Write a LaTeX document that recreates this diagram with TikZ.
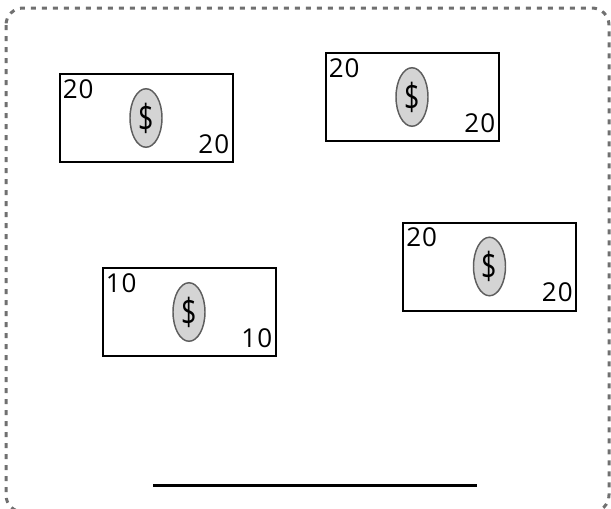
\documentclass[tikz,border=0pt]{standalone}
\usepackage{fontspec}
\usepackage{graphicx}
\setmainfont{Open Sans}
\newfontfamily\billfont[LetterSpace=4]{Open Sans}
\usetikzlibrary{shapes.geometric,positioning}
\definecolor{framegray}{HTML}{707070}
\definecolor{coinfill}{HTML}{D4D4D4}
\definecolor{coinedge}{HTML}{5E5E5E}
\newcommand{\dollarsign}{\scalebox{0.72}[1]{\$}}
\tikzset{
  bill/.style={draw=black,line width=1.5pt,minimum width=129.75pt,minimum height=66pt,inner sep=0pt},
  coin/.style={ellipse,draw=coinedge,fill=coinfill,line width=1.1pt,minimum width=24pt,minimum height=43.9pt,inner sep=0pt,font=\fontsize{28}{28}\selectfont},
  amount/.style={inner sep=0pt,font=\billfont\fontsize{19.5}{19.5}\selectfont}
}
\begin{document}
\begin{tikzpicture}[x=0.75pt,y=-0.75pt]
                \useasboundingbox (0,0) rectangle (611,508);
                \draw[framegray,line width=2.25pt,dash pattern=on 3.75pt off 4.5pt,rounded corners=12.75pt] (6,8) rectangle (609,512);
                \node[bill] (b1) at (146,118) {};
                \node[bill] (b2) at (412,97) {};
                \node[bill] (b3) at (489.5,266.5) {};
                \node[bill] (b4) at (189,312) {};
                \node[coin] (c1) at (b1.center) {\dollarsign};
                \node[coin] (c2) at (b2.center) {\dollarsign};
                \node[coin] (c3) at (b3.center) {\dollarsign};
                \node[coin] (c4) at (b4.center) {\dollarsign};
                \node[amount,anchor=base west] (t1) at ([shift={(4,25)}]b1.north west) {20};
                \node[amount,anchor=base east] (u1) at ([shift={(-4,-10)}]b1.south east) {20};
                \node[amount,anchor=base west] (t2) at ([shift={(4,25)}]b2.north west) {20};
                \node[amount,anchor=base east] (u2) at ([shift={(-4,-10)}]b2.south east) {20};
                \node[amount,anchor=base west] (t3) at ([shift={(4,25)}]b3.north west) {20};
                \node[amount,anchor=base east] (u3) at ([shift={(-4,-10)}]b3.south east) {20};
                \node[amount,anchor=base west] (t4) at ([shift={(4,25)}]b4.north west) {10};
                \node[amount,anchor=base east] (u4) at ([shift={(-4,-10)}]b4.south east) {10};
                \coordinate (lineL) at (153,485);
                \coordinate (lineR) at (477,485);
                \draw[line width=2.25pt] (lineL) -- (lineR);
            \end{tikzpicture}
\end{document}
